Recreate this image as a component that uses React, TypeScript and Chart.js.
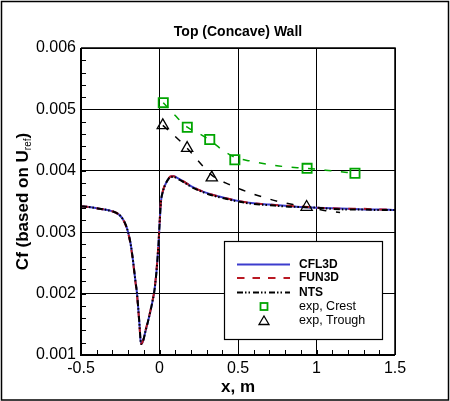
import React, { useEffect, useRef } from "react";
import { Chart, registerables } from "chart.js";

Chart.register(...registerables);

// ---- data ----
const cfdX = [
  -0.5, -0.45, -0.4, -0.35, -0.3, -0.26, -0.235, -0.215, -0.2, -0.186, -0.175, -0.165,
  -0.155, -0.144, -0.135, -0.127, -0.121, -0.116, -0.11, -0.102, -0.091, -0.075, -0.059,
  -0.045, -0.034, -0.022, -0.013, -0.006, 0, 0.009, 0.02, 0.036, 0.055, 0.075, 0.09, 0.11,
  0.13, 0.17, 0.2, 0.25, 0.3, 0.365, 0.43, 0.5, 0.6, 0.7, 0.8, 0.9, 1.0, 1.1, 1.2, 1.3,
  1.4, 1.5,
];
const cfl3dCf = [
  0.00342, 0.00341, 0.00339, 0.00337, 0.00334, 0.00329, 0.00322, 0.00312, 0.003, 0.00284,
  0.00266, 0.00246, 0.00224, 0.00202, 0.00175, 0.00148, 0.00125, 0.00118, 0.0012, 0.00125,
  0.00137, 0.00153, 0.0017, 0.00187, 0.00202, 0.00228, 0.00256, 0.00282, 0.00311, 0.00349,
  0.00365, 0.00377, 0.00386, 0.00391, 0.00391, 0.00389, 0.00386, 0.0038, 0.00375, 0.00369,
  0.00364, 0.00359, 0.00355, 0.00351, 0.00347, 0.00345, 0.00343, 0.00341, 0.0034, 0.00339,
  0.00338, 0.00337, 0.00337, 0.00336,
];
const fun3dCf = [
  0.00342, 0.00341, 0.00339, 0.00337, 0.00334, 0.00329, 0.00322, 0.00311, 0.00299, 0.00282,
  0.00264, 0.00244, 0.00222, 0.002, 0.00173, 0.00146, 0.00124, 0.00118, 0.0012, 0.00126,
  0.00138, 0.00154, 0.00171, 0.00188, 0.00203, 0.0023, 0.00258, 0.00284, 0.00312, 0.0035,
  0.00366, 0.00378, 0.00387, 0.00391, 0.00391, 0.00389, 0.00386, 0.0038, 0.00375, 0.00369,
  0.00364, 0.00359, 0.00355, 0.00351, 0.00347, 0.00345, 0.00343, 0.00342, 0.0034, 0.00339,
  0.00338, 0.00338, 0.00337, 0.00337,
];
const ntsCf = [
  0.00342, 0.00341, 0.00339, 0.00337, 0.00334, 0.00329, 0.00322, 0.00312, 0.003, 0.00284,
  0.00266, 0.00246, 0.00224, 0.00202, 0.00175, 0.00148, 0.00125, 0.00118, 0.0012, 0.00125,
  0.00137, 0.00153, 0.0017, 0.00187, 0.00202, 0.00228, 0.00256, 0.00282, 0.00311, 0.00349,
  0.00365, 0.00377, 0.00386, 0.0039, 0.0039, 0.00388, 0.00385, 0.00379, 0.00374, 0.00368,
  0.00363, 0.00358, 0.00354, 0.0035, 0.00346, 0.00344, 0.00342, 0.00341, 0.0034, 0.00338,
  0.00337, 0.00337, 0.00336, 0.00336,
];

const crestX = [0.024, 0.177, 0.32, 0.48, 0.94, 1.245];
const crestCf = [0.00511, 0.00471, 0.00451, 0.00418, 0.00404, 0.00396];
const troughX = [0.021, 0.176, 0.333, 0.937];
const troughCf = [0.00474, 0.00437, 0.00389, 0.00341];

const crestFitX = [0.024, 0.1, 0.177, 0.25, 0.32, 0.4, 0.48, 0.578, 0.683, 0.788, 0.94, 1.096, 1.245];
const crestFitCf = [0.00511, 0.0049, 0.00471, 0.00461, 0.0045, 0.00434, 0.00422, 0.00416, 0.00411, 0.00407, 0.00404, 0.004, 0.00396];
const troughFitX = [0.021, 0.07, 0.176, 0.24, 0.333, 0.45, 0.556, 0.66, 0.757, 0.85, 0.937, 1.06, 1.15];
const troughFitCf = [0.00474, 0.00463, 0.00437, 0.00418, 0.00393, 0.00377, 0.00366, 0.00357, 0.0035, 0.00345, 0.00341, 0.00335, 0.00332];

const xTickLabels = ["-0.5", "0", "0.5", "1", "1.5"];
const yTickLabels = ["0.001", "0.002", "0.003", "0.004", "0.005", "0.006"];

const seriesNames = ["CFL3D", "FUN3D", "NTS", "exp, Crest", "exp, Trough"];

const BLUE = "rgb(60,60,205)";
const RED = "rgb(185,25,35)";
const GREEN = "rgb(0,165,0)";
const FONT = "'Liberation Sans', Arial, Helvetica, sans-serif";

const zip = (xs: number[], ys: number[]) => xs.map((x, i) => ({ x, y: ys[i] }));

const decorations = {
  id: "decorations",
  afterDraw(chart: any) {
    const ctx: CanvasRenderingContext2D = chart.ctx;
    const { left, right, top, bottom } = chart.chartArea;
    const xs = chart.scales.x;
    const ys = chart.scales.y;
    ctx.save();

    // minor ticks (inward) on left and bottom
    ctx.strokeStyle = "#000";
    ctx.lineWidth = 1;
    ctx.beginPath();
    for (let i = 0; i <= 25; i++) {
      const v = 0.001 + i * 0.0002;
      const py = Math.round(ys.getPixelForValue(v)) + 0.5;
      ctx.moveTo(left, py);
      ctx.lineTo(left + 5, py);
    }
    for (let i = 0; i <= 20; i++) {
      const v = -0.5 + i * 0.1;
      const px = Math.round(xs.getPixelForValue(v)) + 0.5;
      ctx.moveTo(px, bottom);
      ctx.lineTo(px, bottom - 5);
    }
    ctx.stroke();

    // axis frame
    ctx.lineWidth = 2;
    ctx.beginPath();
    ctx.moveTo(left, top);
    ctx.lineTo(left, bottom);
    ctx.lineTo(right, bottom);
    ctx.stroke();
    ctx.lineWidth = 1.5;
    ctx.beginPath();
    ctx.moveTo(left, top);
    ctx.lineTo(right, top);
    ctx.lineTo(right, bottom);
    ctx.stroke();

    // outer frame
    ctx.lineWidth = 1.5;
    ctx.strokeRect(1.5, 1.5, chart.width - 3, chart.height - 2.5);

    // title
    ctx.fillStyle = "#000";
    ctx.textAlign = "center";
    ctx.textBaseline = "middle";
    ctx.font = `bold 14px ${FONT}`;
    ctx.fillText("Top (Concave) Wall", (left + right) / 2, 32);

    // x axis title
    ctx.font = `bold 17px ${FONT}`;
    ctx.fillText("x, m", (left + right) / 2, 387);

    // y axis title with subscript
    ctx.save();
    ctx.translate(22, (top + bottom) / 2);
    ctx.rotate(-Math.PI / 2);
    const main = "Cf (based on U";
    const sub = "ref";
    const close = ")";
    ctx.font = `bold 17px ${FONT}`;
    const wMain = ctx.measureText(main).width;
    const wClose = ctx.measureText(close).width;
    ctx.font = `10px ${FONT}`;
    const wSub = ctx.measureText(sub).width;
    const total = wMain + wSub + wClose;
    let cx = -total / 2;
    ctx.textAlign = "left";
    ctx.textBaseline = "alphabetic";
    ctx.font = `bold 17px ${FONT}`;
    ctx.fillText(main, cx, 6);
    cx += wMain;
    ctx.font = `10px ${FONT}`;
    ctx.fillText(sub, cx, 9);
    cx += wSub;
    ctx.font = `bold 17px ${FONT}`;
    ctx.fillText(close, cx, 6);
    ctx.restore();

    // legend box
    const lx = 224, ly = 241, lw = 158, lh = 98;
    ctx.fillStyle = "#fff";
    ctx.fillRect(lx, ly, lw, lh);
    ctx.strokeStyle = "#000";
    ctx.lineWidth = 1.2;
    ctx.strokeRect(lx + 0.5, ly + 0.5, lw, lh);

    const rows = [264.5, 278, 292.5, 306.5, 321];
    const x0 = 237, x1 = 290, tx = 299, mx = 264;
    ctx.lineWidth = 2;
    // CFL3D
    ctx.strokeStyle = BLUE;
    ctx.setLineDash([]);
    ctx.beginPath(); ctx.moveTo(x0, rows[0]); ctx.lineTo(x1, rows[0]); ctx.stroke();
    // FUN3D
    ctx.strokeStyle = RED;
    ctx.setLineDash([7.5, 8]);
    ctx.beginPath(); ctx.moveTo(x0, rows[1]); ctx.lineTo(x1, rows[1]); ctx.stroke();
    // NTS
    ctx.strokeStyle = "#000";
    ctx.setLineDash([6, 2, 1.5, 2, 1.5, 3]);
    ctx.beginPath(); ctx.moveTo(x0, rows[2]); ctx.lineTo(x1, rows[2]); ctx.stroke();
    ctx.setLineDash([]);
    // square
    ctx.strokeStyle = GREEN;
    ctx.lineWidth = 1.8;
    ctx.strokeRect(mx - 3.5, rows[3] - 3.5, 7, 7);
    // triangle
    ctx.strokeStyle = "#000";
    ctx.lineWidth = 1.3;
    ctx.beginPath();
    ctx.moveTo(mx, rows[4] - 5);
    ctx.lineTo(mx + 5, rows[4] + 3.5);
    ctx.lineTo(mx - 5, rows[4] + 3.5);
    ctx.closePath();
    ctx.stroke();

    ctx.fillStyle = "#000";
    ctx.textAlign = "left";
    ctx.textBaseline = "middle";
    ctx.font = `bold 12px ${FONT}`;
    ctx.fillText(seriesNames[0], tx, rows[0]);
    ctx.fillText(seriesNames[1], tx, rows[1]);
    ctx.fillText(seriesNames[2], tx, rows[2]);
    ctx.font = `12.5px ${FONT}`;
    ctx.fillText(seriesNames[3], tx, rows[3]);
    ctx.fillText(seriesNames[4], tx, rows[4]);

    ctx.restore();
  },
};

export default function App() {
  const ref = useRef<HTMLCanvasElement | null>(null);

  useEffect(() => {
    document.body.style.margin = "0";
    const canvas = ref.current;
    if (!canvas) return;
    const chart = new Chart(canvas, {
      type: "scatter",
      data: {
        datasets: [
          {
            label: seriesNames[3],
            data: zip(crestX, crestCf),
            showLine: false,
            pointStyle: "rect",
            pointRadius: 6.5,
            pointBorderWidth: 1.8,
            pointBorderColor: GREEN,
            pointBackgroundColor: "rgba(0,0,0,0)",
            order: -2,
          } as any,
          {
            label: seriesNames[4],
            data: zip(troughX, troughCf),
            showLine: false,
            pointStyle: "triangle",
            pointRadius: 6.5,
            pointBorderWidth: 1.3,
            pointBorderColor: "#000",
            pointBackgroundColor: "rgba(0,0,0,0)",
            order: -1,
          } as any,
          {
            label: seriesNames[2],
            data: zip(cfdX, ntsCf),
            showLine: true,
            borderColor: "#000",
            borderWidth: 2,
            borderDash: [6, 2, 1.5, 2, 1.5, 3],
            pointRadius: 0,
            cubicInterpolationMode: "monotone",
            order: 0,
          } as any,
          {
            label: seriesNames[1],
            data: zip(cfdX, fun3dCf),
            showLine: true,
            borderColor: RED,
            borderWidth: 2,
            borderDash: [7.5, 8],
            pointRadius: 0,
            cubicInterpolationMode: "monotone",
            order: 1,
          } as any,
          {
            label: seriesNames[0],
            data: zip(cfdX, cfl3dCf),
            showLine: true,
            borderColor: BLUE,
            borderWidth: 2,
            pointRadius: 0,
            cubicInterpolationMode: "monotone",
            order: 2,
          } as any,
          {
            label: "crest fit",
            data: zip(crestFitX, crestFitCf),
            showLine: true,
            borderColor: GREEN,
            borderWidth: 1.5,
            borderDash: [7, 9.5],
            pointRadius: 0,
            cubicInterpolationMode: "monotone",
            order: 3,
          } as any,
          {
            label: "trough fit",
            data: zip(troughFitX, troughFitCf),
            showLine: true,
            borderColor: "#000",
            borderWidth: 1.5,
            borderDash: [7, 9.7],
            pointRadius: 0,
            cubicInterpolationMode: "monotone",
            order: 3,
          } as any,
        ],
      },
      options: {
        animation: false,
        responsive: false,
        devicePixelRatio: 1,
        events: [],
        layout: { padding: { top: 48, right: 55, left: 0, bottom: 0 } },
        plugins: { legend: { display: false }, tooltip: { enabled: false }, title: { display: false } },
        scales: {
          x: {
            type: "linear",
            min: -0.5,
            max: 1.5,
            ticks: {
              stepSize: 0.5,
              autoSkip: false,
              maxRotation: 0,
              padding: 4,
              color: "#000",
              font: { family: FONT, size: 16 },
              callback: (v: any) => {
                const i = Math.round((Number(v) + 0.5) / 0.5);
                return xTickLabels[i] ?? "";
              },
            },
            grid: { color: "#000", lineWidth: 1, drawTicks: false },
            border: { display: false },
            afterFit: (s: any) => { s.height = 46; },
          },
          y: {
            type: "linear",
            min: 0.001,
            max: 0.006,
            ticks: {
              stepSize: 0.001,
              autoSkip: false,
              padding: 5,
              color: "#000",
              font: { family: FONT, size: 16 },
              callback: (v: any) => {
                const i = Math.round((Number(v) - 0.001) / 0.001);
                return yTickLabels[i] ?? "";
              },
            },
            grid: { color: "#000", lineWidth: 1, drawTicks: false },
            border: { display: false },
            afterFit: (s: any) => { s.width = 81; },
          },
        },
      },
      plugins: [decorations],
    } as any);
    return () => chart.destroy();
  }, []);

  return (
    <div style={{ width: 450, height: 401, background: "#fff" }}>
      <canvas ref={ref} width={450} height={401} style={{ display: "block" }} />
    </div>
  );
}
